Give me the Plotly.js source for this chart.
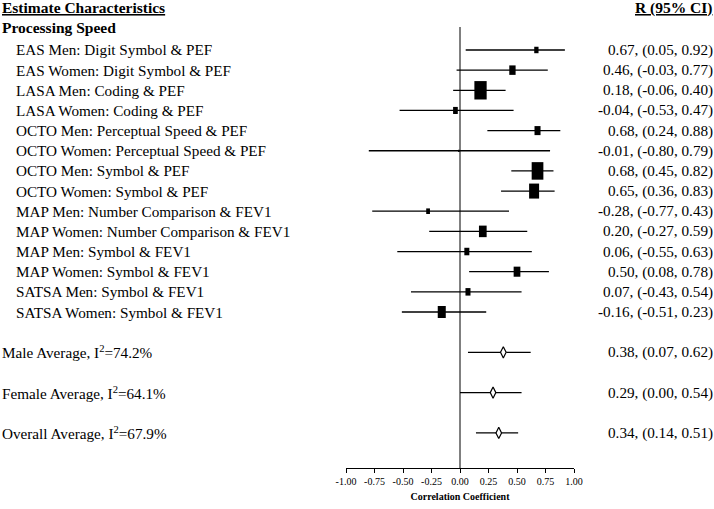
<!DOCTYPE html>
<html>
<head>
<meta charset="utf-8">
<script src="https://cdn.plot.ly/plotly-3.0.1.min.js"></script>
<style>html,body{margin:0;padding:0;background:#fff;}#chart{width:714px;height:509px;}</style>
</head>
<body>
<div id="chart"></div>
<script>
// ---- data ----
const studyLabels = [
  'EAS Men: Digit Symbol & PEF',
  'EAS Women: Digit Symbol & PEF',
  'LASA Men: Coding & PEF',
  'LASA Women: Coding & PEF',
  'OCTO Men: Perceptual Speed & PEF',
  'OCTO Women: Perceptual Speed & PEF',
  'OCTO Men: Symbol & PEF',
  'OCTO Women: Symbol & PEF',
  'MAP Men: Number Comparison & FEV1',
  'MAP Women: Number Comparison & FEV1',
  'MAP Men: Symbol & FEV1',
  'MAP Women: Symbol & FEV1',
  'SATSA Men: Symbol & FEV1',
  'SATSA Women: Symbol & FEV1'
];
const studyEst = [0.67, 0.46, 0.18, -0.04, 0.68, -0.01, 0.68, 0.65, -0.28, 0.20, 0.06, 0.50, 0.07, -0.16];
const studyLo  = [0.05, -0.03, -0.06, -0.53, 0.24, -0.80, 0.45, 0.36, -0.77, -0.27, -0.55, 0.08, -0.43, -0.51];
const studyHi  = [0.92, 0.77, 0.40, 0.47, 0.88, 0.79, 0.82, 0.83, 0.43, 0.59, 0.63, 0.78, 0.54, 0.23];
// relative study weights (%)
const studyWeight = [2.5, 5.4, 20.4, 3.0, 4.9, 0.3, 18.5, 13.5, 1.9, 8.0, 3.4, 6.1, 3.4, 8.7];

const summaryLabels = ['Male Average, I<sup>2</sup>=74.2%', 'Female Average, I<sup>2</sup>=64.1%', 'Overall Average, I<sup>2</sup>=67.9%'];
const summaryEst = [0.38, 0.29, 0.34];
const summaryLo  = [0.07, 0.00, 0.14];
const summaryHi  = [0.62, 0.54, 0.51];

const tickValues = [-1, -0.75, -0.5, -0.25, 0, 0.25, 0.5, 0.75, 1];
const tickLabels = ['-1.00', '-0.75', '-0.50', '-0.25', '0.00', '0.25', '0.50', '0.75', '1.00'];

const headerLeft = 'Estimate Characteristics';
const headerRight = 'R (95% CI)';
const groupLabel = 'Processing Speed';
const xTitle = 'Correlation Coefficient';

// ---- layout helpers ----
const FONT = '"Liberation Serif", "Times New Roman", Times, serif';
const studyRows = studyLabels.map((_, i) => i);
const summaryRows = [15, 17, 19];
const fmt = v => v.toFixed(2);
const ciText = (e, l, h) => fmt(e) + ', (' + fmt(l) + ', ' + fmt(h) + ')';

const boxW = studyWeight.map(w => 2.72 * Math.sqrt(w));
const boxH = boxW.map(w => 1.5 * w / 1.4);

const studyTrace = {
  type: 'scatter', mode: 'markers',
  x: studyEst, y: studyRows,
  marker: { symbol: 'line-ns', size: boxH, opacity: 1, color: '#000', line: { color: '#000', width: boxW } },
  error_x: { type: 'data', symmetric: false,
    array: studyHi.map((h, i) => h - studyEst[i]),
    arrayminus: studyLo.map((l, i) => studyEst[i] - l),
    width: 0, thickness: 1.3, color: '#000' },
  cliponaxis: false, hoverinfo: 'none'
};
const summaryTrace = {
  type: 'scatter', mode: 'markers',
  x: summaryEst, y: summaryRows,
  marker: { symbol: 'diamond-tall', size: 8, opacity: 1, color: '#fff', line: { color: '#000', width: 1.2 } },
  error_x: { type: 'data', symmetric: false,
    array: summaryHi.map((h, i) => h - summaryEst[i]),
    arrayminus: summaryLo.map((l, i) => summaryEst[i] - l),
    width: 0, thickness: 1.3, color: '#000' },
  cliponaxis: false, hoverinfo: 'none'
};

const LEFT0 = -346 / 228, LEFT1 = -332 / 228, RIGHT = 369 / 228;
const ann = [];
const txt = (text, x, y, anchor, size, extra) => Object.assign({
  text, x, y, xref: 'paper', yref: 'y', xanchor: anchor, yanchor: 'middle',
  showarrow: false, font: { family: FONT, size: size, color: '#000' }
}, extra || {});
ann.push(txt('<b><u>' + headerLeft + '</u></b>', LEFT0, -2.1, 'left', 15.5));
ann.push(txt('<b><u>' + headerRight + '</u></b>', RIGHT, -2.1, 'right', 15.5));
ann.push(txt('<b>' + groupLabel + '</b>', LEFT0, -1.1, 'left', 15.5));
studyLabels.forEach((s, i) => {
  ann.push(txt(s, LEFT1, studyRows[i], 'left', 15.2));
  ann.push(txt(ciText(studyEst[i], studyLo[i], studyHi[i]), RIGHT, studyRows[i], 'right', 15.2));
});
summaryLabels.forEach((s, i) => {
  ann.push(txt(s, LEFT0, summaryRows[i], 'left', 15.2));
  ann.push(txt(ciText(summaryEst[i], summaryLo[i], summaryHi[i]), RIGHT, summaryRows[i], 'right', 15.2));
});

const layout = {
  width: 714, height: 509,
  margin: { l: 346, r: 140, t: 0, b: 41, pad: 0 },
  paper_bgcolor: '#fff', plot_bgcolor: '#fff',
  showlegend: false,
  font: { family: FONT, color: '#000' },
  xaxis: {
    range: [-1, 1], tickvals: tickValues, ticktext: tickLabels,
    ticks: 'outside', ticklen: 4, tickwidth: 1, tickcolor: '#000',
    showline: true, linecolor: '#000', linewidth: 1,
    showgrid: false, zeroline: false, automargin: false,
    tickfont: { family: FONT, size: 10, color: '#000' },
    title: { text: '<b>' + xTitle + '</b>', font: { family: FONT, size: 10, color: '#000' }, standoff: 6 },
    fixedrange: true
  },
  yaxis: {
    range: [20.74, -2.48], showticklabels: false, ticks: '', showgrid: false,
    zeroline: false, showline: false, automargin: false, fixedrange: true
  },
  shapes: [{ type: 'line', xref: 'x', yref: 'paper', x0: 0, x1: 0, y0: 0, y1: 1 - 27 / 468,
    line: { color: '#000', width: 1 } }],
  annotations: ann
};

Plotly.newPlot('chart', [studyTrace, summaryTrace], layout, { displayModeBar: false, staticPlot: true });
</script>
</body>
</html>
